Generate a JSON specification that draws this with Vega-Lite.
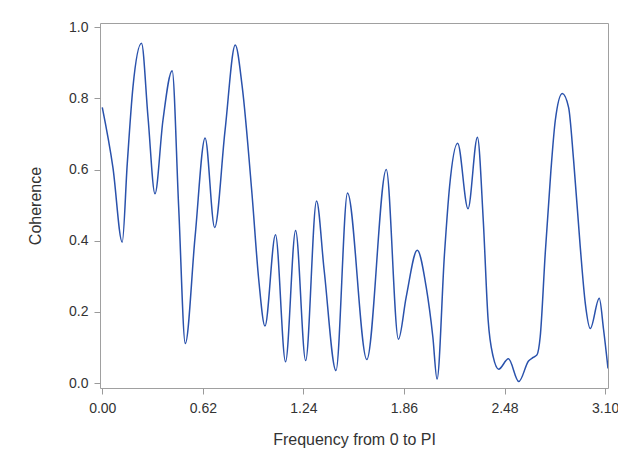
{
  "$schema": "https://vega.github.io/schema/vega-lite/v6.json",
  "width": 508,
  "height": 365,
  "autosize": {"type": "none"},
  "padding": {"left": 100, "top": 23, "right": 10, "bottom": 80},
  "background": "white",
  "config": {
    "view": {"stroke": "#a0a0a0", "strokeWidth": 1},
    "font": "Liberation Sans",
    "axis": {
      "domain": false,
      "grid": false,
      "tickColor": "#9a9a9a",
      "tickSize": 6,
      "labelFont": "Liberation Sans",
      "labelFontSize": 14,
      "labelColor": "#333333",
      "titleFont": "Liberation Sans",
      "titleFontSize": 16,
      "titleFontWeight": "normal",
      "titleColor": "#333333",
      "labelFlush": false,
      "labelOverlap": false,
      "labelBound": false
    }
  },
  "data": {
    "values": [
      {"freq": 0.000, "coh": 0.775},
      {"freq": 0.066, "coh": 0.605},
      {"freq": 0.123, "coh": 0.396},
      {"freq": 0.154, "coh": 0.616},
      {"freq": 0.189, "coh": 0.831},
      {"freq": 0.242, "coh": 0.955},
      {"freq": 0.282, "coh": 0.747},
      {"freq": 0.325, "coh": 0.532},
      {"freq": 0.374, "coh": 0.738},
      {"freq": 0.431, "coh": 0.878},
      {"freq": 0.471, "coh": 0.495},
      {"freq": 0.512, "coh": 0.111},
      {"freq": 0.572, "coh": 0.410},
      {"freq": 0.634, "coh": 0.689},
      {"freq": 0.693, "coh": 0.437},
      {"freq": 0.757, "coh": 0.710},
      {"freq": 0.820, "coh": 0.950},
      {"freq": 0.862, "coh": 0.836},
      {"freq": 0.923, "coh": 0.532},
      {"freq": 0.965, "coh": 0.289},
      {"freq": 1.003, "coh": 0.160},
      {"freq": 1.068, "coh": 0.417},
      {"freq": 1.130, "coh": 0.060},
      {"freq": 1.192, "coh": 0.429},
      {"freq": 1.254, "coh": 0.063},
      {"freq": 1.321, "coh": 0.512},
      {"freq": 1.368, "coh": 0.317},
      {"freq": 1.441, "coh": 0.035},
      {"freq": 1.512, "coh": 0.534},
      {"freq": 1.631, "coh": 0.066},
      {"freq": 1.751, "coh": 0.600},
      {"freq": 1.826, "coh": 0.123},
      {"freq": 1.874, "coh": 0.242},
      {"freq": 1.942, "coh": 0.373},
      {"freq": 1.997, "coh": 0.270},
      {"freq": 2.038, "coh": 0.130},
      {"freq": 2.064, "coh": 0.011},
      {"freq": 2.110, "coh": 0.364},
      {"freq": 2.141, "coh": 0.551},
      {"freq": 2.191, "coh": 0.674},
      {"freq": 2.255, "coh": 0.490},
      {"freq": 2.313, "coh": 0.691},
      {"freq": 2.349, "coh": 0.457},
      {"freq": 2.379, "coh": 0.177},
      {"freq": 2.410, "coh": 0.074},
      {"freq": 2.444, "coh": 0.039},
      {"freq": 2.504, "coh": 0.068},
      {"freq": 2.568, "coh": 0.004},
      {"freq": 2.628, "coh": 0.062},
      {"freq": 2.657, "coh": 0.072},
      {"freq": 2.680, "coh": 0.079},
      {"freq": 2.700, "coh": 0.130},
      {"freq": 2.731, "coh": 0.364},
      {"freq": 2.766, "coh": 0.597},
      {"freq": 2.793, "coh": 0.738},
      {"freq": 2.836, "coh": 0.814},
      {"freq": 2.875, "coh": 0.775},
      {"freq": 2.906, "coh": 0.626},
      {"freq": 2.947, "coh": 0.382},
      {"freq": 2.978, "coh": 0.224},
      {"freq": 3.009, "coh": 0.153},
      {"freq": 3.064, "coh": 0.238},
      {"freq": 3.091, "coh": 0.149},
      {"freq": 3.118, "coh": 0.041}
    ]
  },
  "mark": {"type": "line", "interpolate": "monotone", "color": "#2a52ac", "strokeWidth": 1.5, "clip": true},
  "encoding": {
    "x": {
      "field": "freq",
      "type": "quantitative",
      "scale": {"domain": [-0.014, 3.118], "nice": false, "zero": false},
      "axis": {
        "values": [0, 0.62, 1.24, 1.86, 2.48, 3.10],
        "format": ".2f",
        "title": "Frequency from 0 to PI",
        "labelPadding": 7,
        "titlePadding": 16
      }
    },
    "y": {
      "field": "coh",
      "type": "quantitative",
      "scale": {"domain": [-0.014, 1.012], "nice": false, "zero": false},
      "axis": {
        "values": [0, 0.2, 0.4, 0.6, 0.8, 1.0],
        "format": ".1f",
        "title": "Coherence",
        "labelPadding": 6,
        "titlePadding": 25
      }
    }
  }
}
